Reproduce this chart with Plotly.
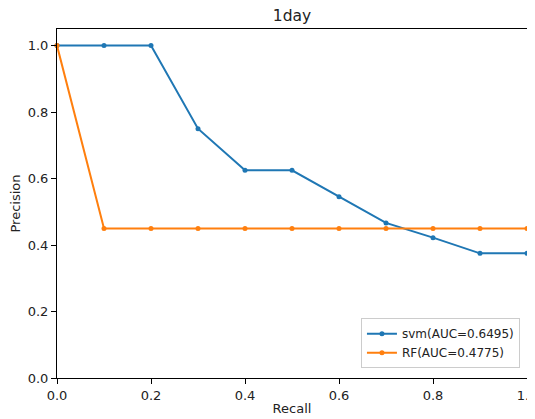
import plotly.graph_objects as go

recall = [0.0, 0.1, 0.2, 0.3, 0.4, 0.5, 0.6, 0.7, 0.8, 0.9, 1.0]
svm_precision = [1.0, 1.0, 1.0, 0.75, 0.625, 0.625, 0.545, 0.4667, 0.4222, 0.375, 0.375]
rf_precision = [1.0, 0.45, 0.45, 0.45, 0.45, 0.45, 0.45, 0.45, 0.45, 0.45, 0.45]
svm_name = "svm(AUC=0.6495)"
rf_name = "RF(AUC=0.4775)"
x_ticks = [0.0, 0.2, 0.4, 0.6, 0.8, 1.0]
y_ticks = [0.0, 0.2, 0.4, 0.6, 0.8, 1.0]

# page body has an 8px margin, so the figure is sized to end at the window edge
W, H = 527, 411

fig = go.Figure()
fig.add_trace(go.Scatter(x=recall, y=svm_precision, mode="lines+markers", name=svm_name,
                         line=dict(color="#1f77b4", width=2), marker=dict(size=5, color="#1f77b4"),
                         cliponaxis=False))
fig.add_trace(go.Scatter(x=recall, y=rf_precision, mode="lines+markers", name=rf_name,
                         line=dict(color="#ff7f0e", width=2), marker=dict(size=5, color="#ff7f0e"),
                         cliponaxis=False))

axis_common = dict(showline=True, linecolor="black", linewidth=1, mirror=True,
                   ticks="outside", ticklen=5, tickwidth=1, tickcolor="black",
                   showgrid=False, zeroline=False, tickformat=".1f", automargin=False,
                   ticklabeloverflow="allow",
                   tickfont=dict(family="DejaVu Sans", size=13, color="#222"))
fig.update_layout(
    width=W, height=H,
    margin=dict(l=49, r=8, t=21, b=41),
    paper_bgcolor="white", plot_bgcolor="white",
    title=dict(text="1day", x=0.5, xref="paper", xanchor="center", y=1 - 8/H, yanchor="middle",
               font=dict(family="DejaVu Sans", size=15.5, color="#222"), automargin=False),
    xaxis=dict(range=[0, 1.000001], tickvals=x_ticks, title=dict(text="Recall", standoff=2,
               font=dict(family="DejaVu Sans", size=13, color="#222")), **axis_common),
    yaxis=dict(range=[0, 1.05], tickvals=y_ticks, title=dict(text="Precision", standoff=6,
               font=dict(family="DejaVu Sans", size=13, color="#222")), **axis_common),
    legend=dict(x=0.985, y=0.028, xanchor="right", yanchor="bottom",
                bgcolor="rgba(255,255,255,0.8)", bordercolor="#cccccc", borderwidth=1,
                itemwidth=30, tracegroupgap=0,
                font=dict(family="DejaVu Sans", size=12, color="#222")),
    showlegend=True,
)
fig.write_html("out.html")
